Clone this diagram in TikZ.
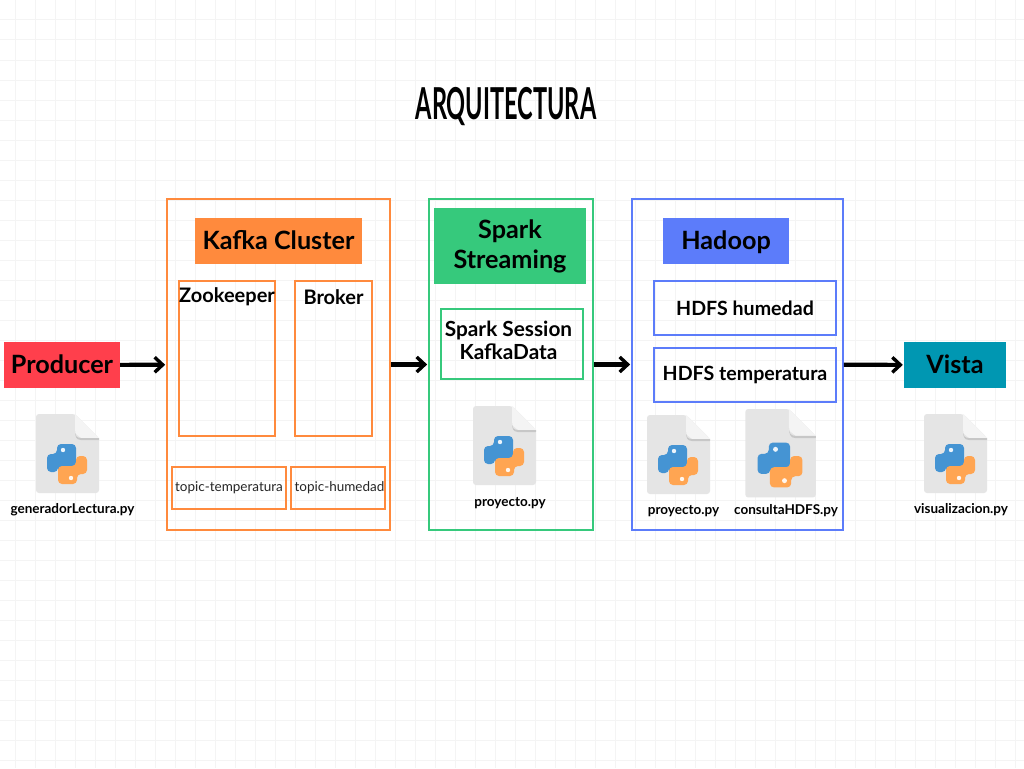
\documentclass[tikz,border=0pt]{standalone}
\usepackage{fontspec}
\setmainfont{Lato}
\usetikzlibrary{arrows.meta}
\definecolor{kafkacolor}{HTML}{FF8A3D}
\definecolor{sparkcolor}{HTML}{36C97C}
\definecolor{hadoopcolor}{HTML}{5C7CFA}
\definecolor{producercolor}{HTML}{FF3F4C}
\definecolor{vistacolor}{HTML}{0097B2}
\definecolor{gridcolor}{HTML}{F4F4F4}
\definecolor{filecolor}{HTML}{E5E5E5}
\definecolor{foldcolor}{HTML}{F4F4F4}
\definecolor{pyblue}{HTML}{4594D3}
\definecolor{pyorange}{HTML}{FFA552}
\tikzset{
	kafkabox/.style={draw=kafkacolor,line width=1.7pt,inner sep=0pt},
	sparkbox/.style={draw=sparkcolor,line width=1.7pt,inner sep=0pt},
	hadoopbox/.style={draw=hadoopcolor,line width=1.7pt,inner sep=0pt},
	titlebox/.style={inner sep=0pt,font=\fontsize{25.2}{30}\selectfont\bfseries,align=center},
	titleline/.style={text height=22pt,text depth=5pt},
	boldtext/.style={font=\fontsize{20}{23}\selectfont\bfseries,align=center,inner sep=0pt},
	topictext/.style={font=\fontsize{13.5}{16}\selectfont,text=black!85,inner sep=0pt},
	filetext/.style={font=\fontsize{13.5}{15}\selectfont\bfseries,inner sep=0pt},
	flow/.style={-{Straight Barb[length=8pt,width=15pt,line width=3.4pt]},line width=4.2pt,shorten >=1pt},
	pyfile/.pic={
		\fill[filecolor,rounded corners=3pt] (-31,-50) -- (8,-50) -- (32,-26) -- (32,29) -- (-31,29) -- cycle;
		\fill[foldcolor] (8,-50) -- (32,-26) -- (14,-26) -- (8,-31) -- cycle;
		\fill[black!22] (8,-33) .. controls (8,-28) and (10,-26) .. (14,-26) -- (32,-26) -- (32,-24) -- (14,-24) .. controls (9,-24) and (8,-28) .. (8,-33) -- cycle;
		\fill[pyblue,rounded corners=4pt] (-10,-10) -- (-10,-20) -- (9,-20) -- (9,3) -- (-9,3) -- (-9,8) -- (-20,8) -- (-20,-10) -- cycle;
		\fill[pyorange,rounded corners=4pt] (10,10) -- (10,20) -- (-9,20) -- (-9,2) -- (9,2) -- (9,-8) -- (20,-8) -- (20,10) -- cycle;
		\fill[white!90!pyblue] (-4,-14) circle (2.2);
		\fill[white!90!pyorange] (4,14) circle (2.2);
	}
}
\begin{document}
\begin{tikzpicture}[x=1pt,y=-1pt]
		\useasboundingbox (0,0) rectangle (1024,768);
		\fill[white] (0,0) rectangle (1024,768);
		% background grid
		\foreach \x in {15,35,...,1015}
		\draw[gridcolor,line width=1pt] (\x,0) -- (\x,768);
		\foreach \y in {0,20,...,760}
		\draw[gridcolor,line width=1pt] (0,\y) -- (1024,\y);

		\node[inner sep=0pt,font=\fontsize{44}{44}\selectfont\bfseries,xscale=.535,transform shape] (titlenode) at (506,106.5) {ARQUITECTURA};

		% producer
		\node[fill=producercolor,titlebox,titleline,minimum width=116,minimum height=46] (producer) at (62,365) {Producer};
		\pic[scale=1] at (67,464) {pyfile};
		\node[filetext] (generadorfile) at (72.5,509.5) {generadorLectura.py};

		% kafka
		\node[kafkabox,minimum width=223,minimum height=331] (kafka) at (278.5,364.5) {};
		\node[fill=kafkacolor,titlebox,titleline,minimum width=167,minimum height=46] (kafkatitle) at (278.5,241) {Kafka Cluster};
		\node[kafkabox,minimum width=96,minimum height=155] (zookeeper) at (227,358.5) {};
		\node[kafkabox,minimum width=77,minimum height=155] (broker) at (333.5,358.5) {};
		\node[boldtext] (zookeepertext) at (227,297) {Zookeeper};
		\node[boldtext] (brokertext) at (333.5,297) {Broker};
		\node[kafkabox,minimum width=114,minimum height=42] (topictemp) at (229,488) {};
		\node[kafkabox,minimum width=94,minimum height=42] (topichum) at (338,488) {};
		\node[topictext] (topictemptext) at (229,488) {topic-temperatura};
		\node[topictext] (topichumtext) at (339.5,488) {topic-humedad};

		% spark
		\node[sparkbox,minimum width=164,minimum height=331] (spark) at (511,364.5) {};
		\node[fill=sparkcolor,titlebox,minimum width=152,minimum height=76] (sparktitle) at (510,246) {Spark\\Streaming};
		\node[sparkbox,minimum width=142,minimum height=70] (session) at (512,344) {};
		\node[boldtext,font=\fontsize{20.8}{23}\selectfont\bfseries] (sessiontext) at (508.5,340.5) {Spark Session\\KafkaData};
		\pic[scale=1] at (504,456) {pyfile};
		\node[filetext] (sparkfile) at (510,503) {proyecto.py};

		% hadoop
		\node[hadoopbox,minimum width=211,minimum height=331] (hadoop) at (737.5,364.5) {};
		\node[fill=hadoopcolor,titlebox,titleline,minimum width=126,minimum height=46] (hadooptitle) at (726,241) {Hadoop};
		\node[hadoopbox,minimum width=182,minimum height=54,font=\fontsize{19.6}{22}\selectfont\bfseries] (hdfshum) at (745,308) {HDFS humedad};
		\node[hadoopbox,minimum width=182,minimum height=54,font=\fontsize{19.6}{22}\selectfont\bfseries] (hdfstemp) at (745,375) {HDFS temperatura};
		\pic[scale=1] at (678,465) {pyfile};
		\node[filetext] (hadoopfile) at (683.5,511) {proyecto.py};
		\pic[scale=1.12] at (780,465) {pyfile};
		\node[filetext] (consultafile) at (786,510.5) {consultaHDFS.py};

		% vista
		\node[fill=vistacolor,titlebox,titleline,minimum width=102,minimum height=46] (vista) at (955,365) {Vista};
		\pic[scale=1] at (955,464) {pyfile};
		\node[filetext] (vistafile) at (961,509.5) {visualizacion.py};

		% arrows
		\draw[flow] (producer) -- (kafka);
		\draw[flow] (kafka) -- (spark);
		\draw[flow] (spark) -- (hadoop);
		\draw[flow] (hadoop) -- (vista);
	\end{tikzpicture}
\end{document}
